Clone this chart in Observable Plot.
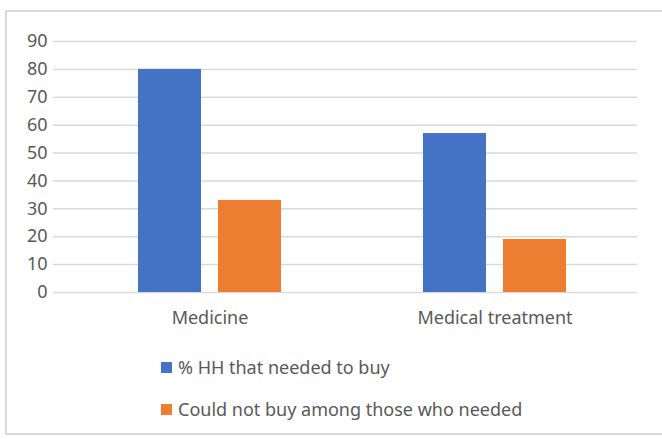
<!DOCTYPE html>
<html>
<head>
<meta charset="utf-8">
<script src="https://cdn.jsdelivr.net/npm/d3@7"></script>
<script src="https://cdn.jsdelivr.net/npm/@observablehq/plot@0.6"></script>
<style>
  html, body { margin: 0; padding: 0; background: #fff; }
  body { width: 662px; height: 439px; position: relative; overflow: hidden; font-family: "Noto Sans", sans-serif; }
  #frame { position: absolute; left: 5px; top: 10px; width: 662px; height: 425px; border: 2px solid #d9d9d9; box-sizing: border-box; }
  #chart { position: absolute; left: 0; top: 0; }
  #legend { position: absolute; left: 161px; top: 352px; color: #595959; font-size: 18px; }
  .item { display: flex; align-items: center; height: 30px; margin-bottom: 12px; }
  .sw { width: 11px; height: 11px; margin-right: 6px; }
</style>
</head>
<body>
<div id="frame"></div>
<div id="chart"></div>
<div id="legend"></div>
<script>
const categories = ["Medicine", "Medical treatment"];
const series = ["% HH that needed to buy", "Could not buy among those who needed"];
const neededValues = [80, 57];
const couldNotValues = [33, 19];
const yTicks = [0, 10, 20, 30, 40, 50, 60, 70, 80, 90];
const colors = ["#4472C4", "#ED7D31"];

const data = categories.flatMap((c, i) => [
  {category: c, series: series[0], value: neededValues[i]},
  {category: c, series: series[1], value: couldNotValues[i]}
]);

const chart = Plot.plot({
  width: 662,
  height: 340,
  marginTop: 41,
  marginBottom: 48,
  marginLeft: 67,
  marginRight: 25,
  style: {fontFamily: "Noto Sans", fontSize: "18px", color: "#595959", background: "transparent"},
  fx: {domain: categories, padding: 0, label: null, tickSize: 0, tickPadding: 19, axis: "bottom"},
  x: {domain: series, paddingInner: 0.21, paddingOuter: 0.88, axis: null},
  y: {domain: [0, 90], ticks: yTicks, tickSize: 0, tickPadding: 20, label: null},
  color: {domain: series, range: colors},
  marks: [
    Plot.ruleY(yTicks, {y: d => d, fx: () => categories[0], stroke: "#d9d9d9", strokeWidth: 1.5, insetLeft: -14}),
    Plot.ruleY(yTicks, {y: d => d, fx: () => categories[1], stroke: "#d9d9d9", strokeWidth: 1.5}),
    Plot.barY(data, {fx: "category", x: "series", y: "value", fill: "series"})
  ]
});
document.getElementById("chart").appendChild(chart);

const legend = document.getElementById("legend");
series.forEach((s, i) => {
  const item = document.createElement("div");
  item.className = "item";
  const sw = document.createElement("div");
  sw.className = "sw";
  sw.style.background = colors[i];
  const label = document.createElement("span");
  label.textContent = s;
  item.appendChild(sw);
  item.appendChild(label);
  legend.appendChild(item);
});
</script>
</body>
</html>
